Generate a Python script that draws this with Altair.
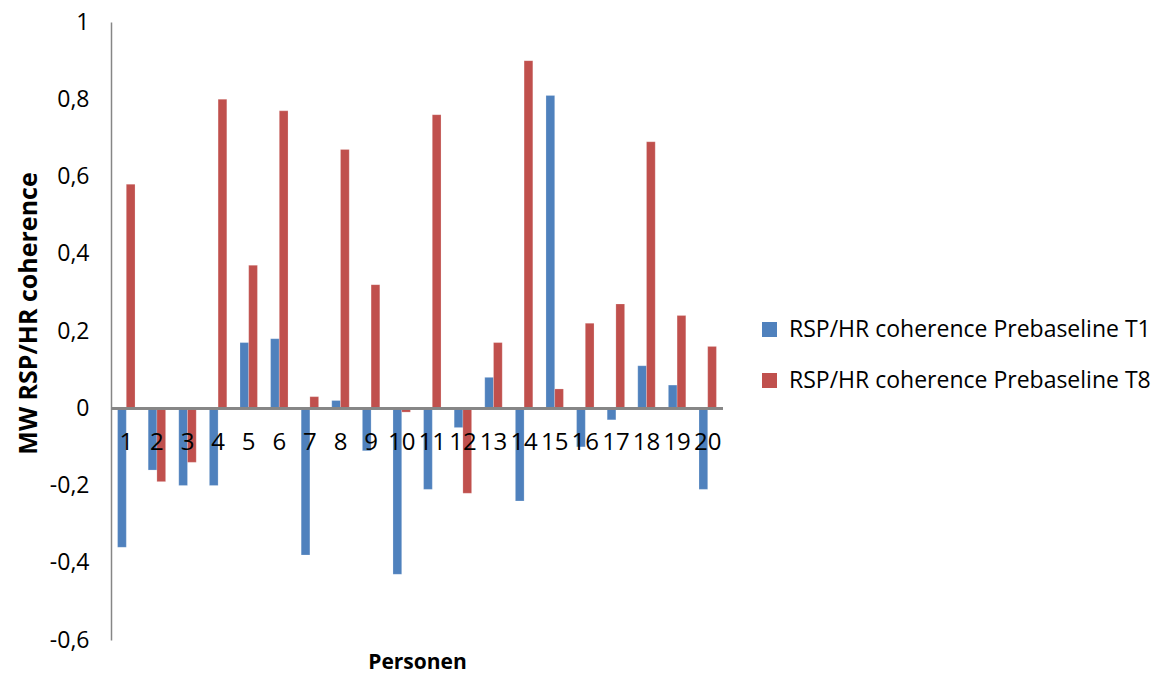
import altair as alt
import pandas as pd

persons = [str(i) for i in range(1, 21)]
t1 = [-0.36, -0.16, -0.20, -0.20, 0.17, 0.18, -0.38, 0.02, -0.11, -0.43,
      -0.21, -0.05, 0.08, -0.24, 0.81, -0.10, -0.03, 0.11, 0.06, -0.21]
t8 = [0.58, -0.19, -0.14, 0.80, 0.37, 0.77, 0.03, 0.67, 0.32, -0.01,
      0.76, -0.22, 0.17, 0.90, 0.05, 0.22, 0.27, 0.69, 0.24, 0.16]
series_names = ["RSP/HR coherence Prebaseline T1", "RSP/HR coherence Prebaseline T8"]
series_colors = ["#4F81BD", "#C0504D"]
y_ticks = [-0.6, -0.4, -0.2, 0, 0.2, 0.4, 0.6, 0.8, 1]

rows = []
for p, a, b in zip(persons, t1, t8):
    rows.append({"Person": p, "Serie": series_names[0], "Wert": a})
    rows.append({"Person": p, "Serie": series_names[1], "Wert": b})
df = pd.DataFrame(rows)
lab = pd.DataFrame({"Person": persons})

FONT = "Open Sans"
xscale = alt.Scale(domain=persons, paddingInner=0.43, paddingOuter=0.215)

bars = alt.Chart(df).mark_bar(stroke="white", strokeOpacity=0.35, strokeWidth=0.6).encode(
    x=alt.X("Person:N", scale=xscale, sort=persons,
            axis=alt.Axis(title="Personen", labels=False, ticks=False, domain=False,
                          titleFont=FONT, titleFontSize=21, titleFontWeight="bold",
                          titleColor="black", titleY=22, titleBaseline="middle")),
    xOffset=alt.XOffset("Serie:N", sort=series_names, scale=alt.Scale(paddingInner=0, paddingOuter=0)),
    y=alt.Y("Wert:Q", scale=alt.Scale(domain=[-0.6, 1], nice=False, zero=False),
            axis=alt.Axis(values=y_ticks, grid=False, ticks=False,
                          domainColor="#868686", domainWidth=1.5,
                          labelExpr="replace(replace(format(datum.value, '.1~f'), '.', ','), '\u2212', '-')",
                          labelFont=FONT, labelFontSize=23, labelColor="black", labelPadding=22,
                          title="MW RSP/HR coherence", titleFont=FONT, titleFontSize=25,
                          titleFontWeight="bold", titleColor="black",
                          titleAngle=-90, titleX=-83, titleY=291, titleAlign="center",
                          titleBaseline="middle")),
    color=alt.Color("Serie:N", sort=series_names,
                    scale=alt.Scale(domain=series_names, range=series_colors),
                    legend=alt.Legend(title=None, orient="none", legendX=647, legendY=296,
                                      symbolType="square", symbolSize=225, symbolStrokeWidth=0,
                                      labelFont=FONT, labelFontSize=23, labelColor="black",
                                      labelLimit=0, rowPadding=27, labelOffset=8)),
)

zero = alt.Chart(lab).mark_rule(color="#868686", strokeWidth=2).encode(
    y=alt.datum(0)
)

labels = alt.Chart(lab).mark_text(font=FONT, fontSize=24, color="black", baseline="middle", dy=35).encode(
    x=alt.X("Person:N", scale=xscale, sort=persons),
    y=alt.datum(0),
    text="Person:N",
)

chart = alt.layer(bars, zero, labels).properties(
    width=612, height=618,
    padding={"left": 111, "top": 22, "right": 443, "bottom": 35},
    autosize=alt.AutoSizeParams(type="none"),
    background="white",
).configure_view(stroke=None)

chart.save("out.html", embed_options={"renderer": "svg", "actions": False})
